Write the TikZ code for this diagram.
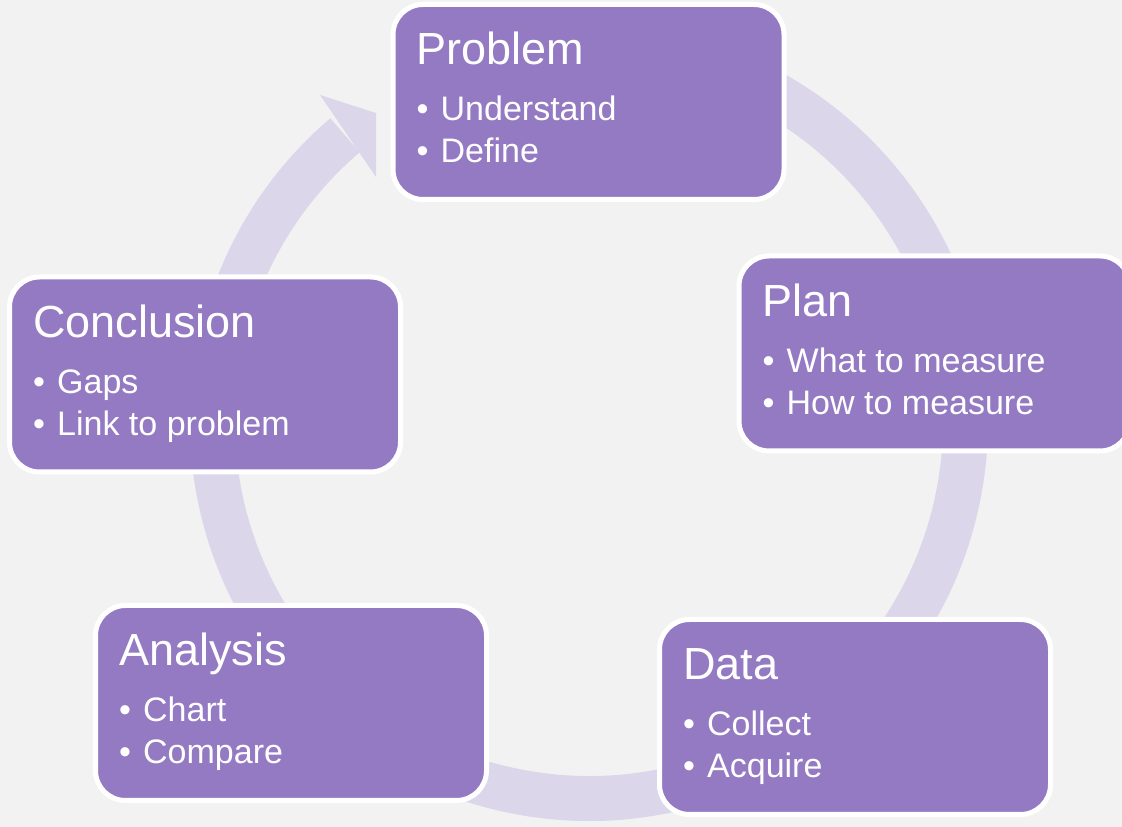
\documentclass[tikz,border=0pt]{standalone}
\usepackage{fontspec}
\setmainfont{Liberation Sans}
\definecolor{boxpurple}{HTML}{9479C3}
\definecolor{ringcol}{HTML}{DBD6EA}
\definecolor{bgcol}{HTML}{F2F2F2}
\begin{document}
\begin{tikzpicture}[x=1pt,y=1pt,
  stepbox/.style={rectangle, rounded corners=30pt, minimum width=391pt, minimum height=195pt,
    inner sep=0pt, outer sep=0pt, fill=boxpurple, draw=white, line width=5pt},
  ttl/.style={anchor=base west, inner sep=0pt, text=white, font=\fontsize{45}{54}\selectfont},
  itm/.style={anchor=base west, inner sep=0pt, text=white, font=\fontsize{34}{41}\selectfont}]
\useasboundingbox[fill=bgcol] (0,0) rectangle (1122,827);
% circular arrow
\coordinate (ctr) at (589,405);
\coordinate (ringstart) at ([shift={(80:376.5)}]ctr);
\draw[ringcol, line width=45pt] (ringstart) arc[start angle=80, end angle=-229.6, radius=376.5];
\coordinate (barbA) at (320,732);
\coordinate (tip) at (376,714);
\coordinate (barbB) at (376,650);
\fill[ringcol] (barbA) -- (tip) -- (barbB) -- cycle;
% boxes
\node[stepbox] (problem) at (588.5,725) {};
\node[ttl] (problemT) at ([shift={(23.5,-60.5)}]problem.north west) {Problem};
\node[itm] (problem1) at ([shift={(23.5,-116.5)}]problem.north west) {\makebox[24pt][l]{•}Understand};
\node[itm] (problem2) at ([shift={(23.5,-158.5)}]problem.north west) {\makebox[24pt][l]{•}Define};

\node[stepbox] (plan) at (934.5,473.5) {};
\node[ttl] (planT) at ([shift={(23.5,-60.5)}]plan.north west) {Plan};
\node[itm] (plan1) at ([shift={(23.5,-116.5)}]plan.north west) {\makebox[24pt][l]{•}What to measure};
\node[itm] (plan2) at ([shift={(23.5,-158.5)}]plan.north west) {\makebox[24pt][l]{•}How to measure};

\node[stepbox] (data) at (855,110) {};
\node[ttl] (dataT) at ([shift={(23.5,-60.5)}]data.north west) {Data};
\node[itm] (data1) at ([shift={(23.5,-116.5)}]data.north west) {\makebox[24pt][l]{•}Collect};
\node[itm] (data2) at ([shift={(23.5,-158.5)}]data.north west) {\makebox[24pt][l]{•}Acquire};

\node[stepbox] (analysis) at (291,124) {};
\node[ttl] (analysisT) at ([shift={(23.5,-60.5)}]analysis.north west) {Analysis};
\node[itm] (analysis1) at ([shift={(23.5,-116.5)}]analysis.north west) {\makebox[24pt][l]{•}Chart};
\node[itm] (analysis2) at ([shift={(23.5,-158.5)}]analysis.north west) {\makebox[24pt][l]{•}Compare};

\node[stepbox] (conclusion) at (205,452.5) {};
\node[ttl] (conclusionT) at ([shift={(23.5,-60.5)}]conclusion.north west) {Conclusion};
\node[itm] (conclusion1) at ([shift={(23.5,-116.5)}]conclusion.north west) {\makebox[24pt][l]{•}Gaps};
\node[itm] (conclusion2) at ([shift={(23.5,-158.5)}]conclusion.north west) {\makebox[24pt][l]{•}Link to problem};
\end{tikzpicture}
\end{document}
